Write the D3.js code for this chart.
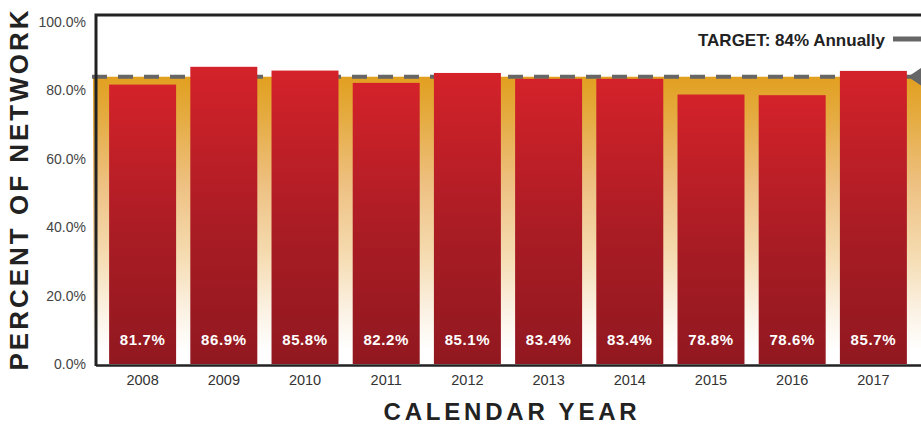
<!DOCTYPE html>
<html>
<head>
<meta charset="utf-8">
<script src="https://cdn.jsdelivr.net/npm/d3@7"></script>
<style>
  html, body { margin: 0; padding: 0; background: #fff; }
  svg { display: block; font-family: "Liberation Sans", Arial, sans-serif; }
</style>
</head>
<body>
<svg id="chart" width="921" height="424"></svg>
<script>
// Network percentage by calendar year, with the annual target
const years = ["2008", "2009", "2010", "2011", "2012", "2013", "2014", "2015", "2016", "2017"];
const values = [81.7, 86.9, 85.8, 82.2, 85.1, 83.4, 83.4, 78.8, 78.6, 85.7];
const yTicks = [0, 20, 40, 60, 80, 100];
const target = 84;
const targetLabel = "TARGET: 84% Annually";
const xTitle = "CALENDAR YEAR";
const yTitle = "PERCENT OF NETWORK";

const W = 921, H = 424;
const frame = { left: 96, top: 15, right: 921, bottom: 365 };

const svg = d3.select("#chart");
const defs = svg.append("defs");

const barGrad = defs.append("linearGradient")
  .attr("id", "barGrad").attr("x1", 0).attr("y1", 0).attr("x2", 0).attr("y2", 1);
barGrad.append("stop").attr("offset", "0%").attr("stop-color", "#d4222a");
barGrad.append("stop").attr("offset", "55%").attr("stop-color", "#a91c24");
barGrad.append("stop").attr("offset", "100%").attr("stop-color", "#911820");

const bandGrad = defs.append("linearGradient")
  .attr("id", "bandGrad").attr("x1", 0).attr("y1", 0).attr("x2", 0).attr("y2", 1);
[["0%", "#e2a020"], ["12%", "#e4a93a"], ["40%", "#eec183"], ["65%", "#f5dbb0"],
 ["85%", "#fbf1e2"], ["100%", "#ffffff"]].forEach(([o, c]) =>
  bandGrad.append("stop").attr("offset", o).attr("stop-color", c));

const x = d3.scaleBand()
  .domain(years)
  .range([101, 915])
  .paddingInner(0.175)
  .paddingOuter(0.1);

const y = d3.scaleLinear()
  .domain([0, 100])
  .range([364, 22]);

// shaded band below the target line
svg.append("rect")
  .attr("x", frame.left - 3)
  .attr("y", y(target))
  .attr("width", W - frame.left + 3)
  .attr("height", y(4) - y(target))
  .attr("fill", "url(#bandGrad)");

// target dashed line
svg.append("line")
  .attr("x1", frame.left - 4).attr("x2", W)
  .attr("y1", y(target)).attr("y2", y(target))
  .attr("stroke", "#666").attr("stroke-width", 4)
  .attr("stroke-dasharray", "15 11");

// bars
svg.append("g").selectAll("rect")
  .data(values)
  .join("rect")
  .attr("x", (d, i) => x(years[i]))
  .attr("y", d => y(d))
  .attr("width", x.bandwidth())
  .attr("height", d => y(0) - y(d))
  .attr("fill", "url(#barGrad)");

// value labels inside bars
svg.append("g").selectAll("text")
  .data(values)
  .join("text")
  .attr("x", (d, i) => x(years[i]) + x.bandwidth() / 2)
  .attr("y", 345)
  .attr("text-anchor", "middle")
  .attr("fill", "#fff")
  .attr("font-weight", "bold")
  .attr("font-size", 15)
  .attr("letter-spacing", 0.6)
  .text(d => d.toFixed(1) + "%");

// target pointer at the right edge
const ty = y(target);
svg.append("path")
  .attr("d", d3.line()([[908, ty], [932, ty - 16], [932, ty + 16]]) + "Z")
  .attr("fill", "#666");

// target legend
svg.append("text")
  .attr("x", 885).attr("y", 46)
  .attr("text-anchor", "end")
  .attr("font-weight", "bold")
  .attr("font-size", 17)
  .attr("fill", "#222")
  .text(targetLabel);
svg.append("line")
  .attr("x1", 893).attr("x2", W)
  .attr("y1", 39).attr("y2", 39)
  .attr("stroke", "#666").attr("stroke-width", 5);

// frame lines
svg.append("path")
  .attr("d", `M${W},${frame.top}H${frame.left}V${frame.bottom + 1}`)
  .attr("fill", "none").attr("stroke", "#222").attr("stroke-width", 3);
svg.append("line")
  .attr("x1", frame.left).attr("x2", W)
  .attr("y1", frame.bottom + 0.5).attr("y2", frame.bottom + 0.5)
  .attr("stroke", "#222").attr("stroke-width", 2.5);

// y axis labels
const yAxis = d3.axisLeft(y)
  .tickValues(yTicks)
  .tickFormat(d => d.toFixed(1) + "%")
  .tickSize(0)
  .tickPadding(0);
const gy = svg.append("g").attr("transform", "translate(86,0)").call(yAxis);
gy.select(".domain").remove();
gy.selectAll("text")
  .attr("font-size", 14)
  .attr("font-family", "Liberation Sans, Arial, sans-serif")
  .attr("fill", "#444");

// x axis labels
const xAxis = d3.axisBottom(x).tickSize(0).tickPadding(0);
const gx = svg.append("g").attr("transform", "translate(0,375)").call(xAxis);
gx.select(".domain").remove();
gx.selectAll("text")
  .attr("font-size", 14.5)
  .attr("font-family", "Liberation Sans, Arial, sans-serif")
  .attr("fill", "#333");

// axis titles
svg.append("text")
  .attr("x", 512).attr("y", 420)
  .attr("text-anchor", "middle")
  .attr("font-weight", "bold")
  .attr("font-size", 24)
  .attr("letter-spacing", 3.8)
  .attr("fill", "#222")
  .text(xTitle);

svg.append("text")
  .attr("transform", "translate(28,189) rotate(-90)")
  .attr("text-anchor", "middle")
  .attr("font-weight", "bold")
  .attr("font-size", 26)
  .attr("letter-spacing", 3)
  .attr("fill", "#222")
  .text(yTitle);
</script>
</body>
</html>
